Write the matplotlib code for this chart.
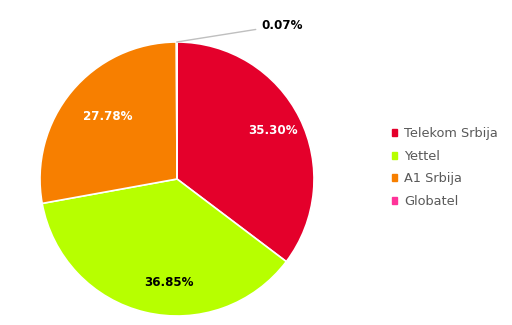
import matplotlib
matplotlib.use("Agg")
import matplotlib.pyplot as plt
import numpy as np

categories = ["Telekom Srbija", "Yettel", "A1 Srbija", "Globatel"]
values = [35.30, 36.85, 27.78, 0.07]
colors = ["#E4002B", "#B7FF00", "#F77F00", "#FF3399"]
label_colors = ["white", "black", "white", "black"]

W, H = 512, 325
fig = plt.figure(figsize=(W / 100, H / 100), dpi=100)
cx, cy, r = 177, 179, 137
ax = fig.add_axes([(cx - r) / W, (H - cy - r) / H, 2 * r / W, 2 * r / H])
wedges, _ = ax.pie(values, colors=colors, startangle=90, counterclock=False,
                   radius=1.0, wedgeprops=dict(edgecolor="white", linewidth=1.2))
ax.set_xlim(-1, 1)
ax.set_ylim(-1, 1)
ax.set_aspect("equal")
ax.axis("off")

# label placement (best-fit style offsets)
dists = [0.787, 0.76, 0.68]
ang_off = [0.5, 9.0, -2.0]
for i, w in enumerate(wedges[:3]):
    ang = np.deg2rad((w.theta1 + w.theta2) / 2 + ang_off[i])
    ax.text(dists[i] * np.cos(ang), dists[i] * np.sin(ang), f"{values[i]:.2f}%",
            ha="center", va="center", fontsize=8.6, fontweight="bold",
            color=label_colors[i])

# small slice label with leader line
w = wedges[3]
ang = np.deg2rad((w.theta1 + w.theta2) / 2)
x0, y0 = np.cos(ang), np.sin(ang)
ax.annotate(f"{values[3]:.2f}%", xy=(x0, y0), xytext=(0.615, 1.122),
            ha="left", va="center", fontsize=8.6, fontweight="bold", color="black",
            arrowprops=dict(arrowstyle="-", color="#BFBFBF", lw=1,
                            shrinkA=2, shrinkB=0), annotation_clip=False)

handles = [plt.Rectangle((0, 0), 1, 1, color=c) for c in colors]
fig.legend(handles, categories, loc="center left", bbox_to_anchor=(380 / W, 1 - 167.5 / H),
           frameon=False, fontsize=9.3, handlelength=0.45, handleheight=0.45,
           handletextpad=0.5, labelspacing=0.74, labelcolor="#595959")

fig.savefig("out.png", dpi=100)
